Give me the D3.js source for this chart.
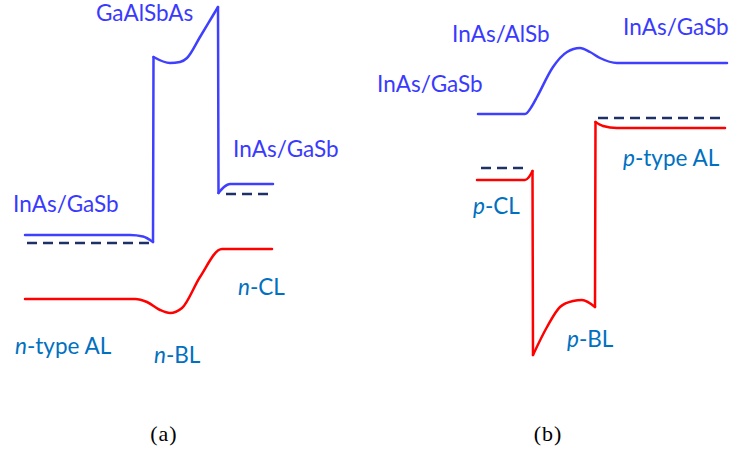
<!DOCTYPE html>
<html>
<head>
<meta charset="utf-8">
<script src="https://cdn.jsdelivr.net/npm/d3@7"></script>
<style>
  body { margin: 0; background: #fff; }
  .lbl { font-family: Lato, "Open Sans", sans-serif; font-size: 22.5px; }
  .cap { font-family: "Liberation Serif", "Times New Roman", serif; font-size: 22px; letter-spacing: 1px; }
</style>
</head>
<body>
<svg id="graph"></svg>
<script>
// positions in nm, energies in eV
// panel (a): n-type structure
var aCB = [[0,0.250],[105,0.250],[118,0.247],[128,0.236],[128.5,0.606],[145,0.594],[155,0.596],[162,0.604],
           [175,0.646],[187,0.686],[193,0.706],[193.5,0.334],[199,0.346],[205,0.352],[248,0.352]];
var aVB = [[0,0.122],[110,0.122],[122,0.116],[135,0.100],[145,0.094],[157,0.104],[175,0.166],[197,0.222],[247,0.222]];
var aEF = [[[2,0.234],[127,0.234]], [[201,0.332],[244,0.332]]];

// panel (b): p-type structure
var bCB = [[1,0.492],[48,0.492],[55,0.508],[60,0.526],[76,0.586],[90,0.616],[103,0.624],[113,0.616],[123,0.604],
           [140,0.594],[250,0.594]];
var bVB = [[0,0.360],[48,0.360],[52,0.366],[55.5,0.378],[56,0.010],[70,0.066],[83,0.106],[96,0.118],[105,0.120],
           [118,0.106],[118.5,0.476],[126,0.468],[140,0.464],[248,0.464]];
var bEF = [[[4,0.384],[46,0.384]], [[121,0.484],[246,0.484]]];

// text labels: [position nm, energy eV, text, italic prefix, kind]
var aLabels = [
  [71, 0.678, "GaAlSbAs", "", "layer"],
  [-12, 0.296, "InAs/GaSb", "", "layer"],
  [208, 0.406, "InAs/GaSb", "", "layer"],
  [213, 0.130, "-CL", "n", "doping"],
  [-10, 0.012, "-type AL", "n", "doping"],
  [129, -0.006, "-BL", "n", "doping"]
];
var bLabels = [
  [-25, 0.636, "InAs/AlSb", "", "layer"],
  [146, 0.650, "InAs/GaSb", "", "layer"],
  [-100, 0.536, "InAs/GaSb", "", "layer"],
  [146, 0.388, "-type AL", "p", "doping"],
  [-4, 0.292, "-CL", "p", "doping"],
  [90, 0.026, "-BL", "p", "doping"]
];
var captions = ["(a)", "(b)"];

var svg = d3.select("#graph")
    .attr("width", 751)
    .attr("height", 454);

var y = d3.scaleLinear().domain([0, 0.7]).range([360, 10]);
var xa = d3.scaleLinear().domain([0, 250]).range([25, 275]);
var xb = d3.scaleLinear().domain([0, 250]).range([477, 727]);

var colors = { cb: "#3f3fff", vb: "#ff0000", ef: "#1f3068", layer: "#3a3aff", doping: "#0070c0" };

// split a band into smooth parts and the abrupt steps at interfaces
function pieces(pts) {
  var out = [], cur = [pts[0]];
  for (var i = 1; i < pts.length; i++) {
    if (pts[i][0] - pts[i-1][0] < 1) {
      out.push({ smooth: true, pts: cur });
      out.push({ smooth: false, pts: [pts[i-1], pts[i]] });
      cur = [pts[i]];
    } else {
      cur.push(pts[i]);
    }
  }
  out.push({ smooth: true, pts: cur });
  return out.filter(function(p) { return p.pts.length > 1; });
}

function drawPanel(x, cb, vb, ef, labels, cap, capX) {
  var smooth = d3.line()
      .x(function(d) { return x(d[0]); })
      .y(function(d) { return y(d[1]); })
      .curve(d3.curveMonotoneX);
  var straight = d3.line()
      .x(function(d) { return x(d[0]); })
      .y(function(d) { return y(d[1]); });

  svg.selectAll(null)
    .data(ef)
    .enter().append("path")
      .attr("d", straight)
      .attr("fill", "none")
      .attr("stroke", colors.ef)
      .attr("stroke-width", 2.5)
      .attr("stroke-dasharray", "10,6");

  [[cb, colors.cb], [vb, colors.vb]].forEach(function(band) {
    svg.selectAll(null)
      .data(pieces(band[0]))
      .enter().append("path")
        .attr("d", function(p) { return p.smooth ? smooth(p.pts) : straight(p.pts); })
        .attr("fill", "none")
        .attr("stroke", band[1])
        .attr("stroke-width", 2.5)
        .attr("stroke-linecap", "round")
        .attr("stroke-linejoin", "round");
  });

  var t = svg.selectAll(null)
    .data(labels)
    .enter().append("text")
      .attr("class", "lbl")
      .attr("x", function(d) { return x(d[0]); })
      .attr("y", function(d) { return y(d[1]); })
      .attr("fill", function(d) { return colors[d[4]]; });
  t.append("tspan")
      .attr("font-style", "italic")
      .text(function(d) { return d[3]; });
  t.append("tspan")
      .text(function(d) { return d[2]; });

  svg.append("text")
      .attr("class", "cap")
      .attr("x", capX)
      .attr("y", 441)
      .attr("text-anchor", "middle")
      .text(cap);
}

drawPanel(xa, aCB, aVB, aEF, aLabels, captions[0], 164);
drawPanel(xb, bCB, bVB, bEF, bLabels, captions[1], 548);
</script>
</body>
</html>
